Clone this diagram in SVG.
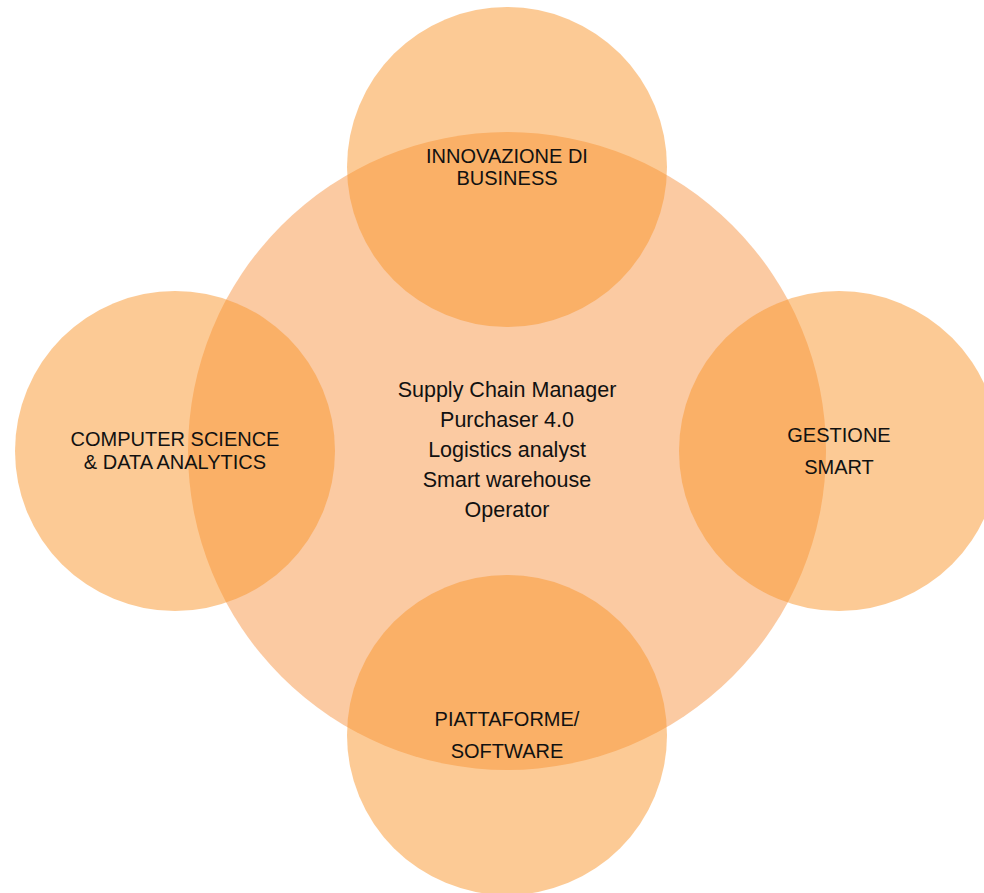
<svg xmlns="http://www.w3.org/2000/svg" width="984" height="893" viewBox="0 0 984 893">
  <style>
    .big { fill: #F79646; fill-opacity: 0.5; }
    .small { fill: #FA952C; fill-opacity: 0.5; }
    text { font-family: "Liberation Sans", Arial, sans-serif; font-size: 20px; fill: #111111; text-anchor: middle; }
    .mid { font-size: 21.5px; }
  </style>
  <rect width="984" height="893" fill="#FFFFFF"/>
  <g id="center">
    <circle class="big" cx="507" cy="451" r="319"/>
    <text class="mid" x="507" y="397">Supply Chain Manager</text>
    <text class="mid" x="507" y="427">Purchaser 4.0</text>
    <text class="mid" x="507" y="457">Logistics analyst</text>
    <text class="mid" x="507" y="487">Smart warehouse</text>
    <text class="mid" x="507" y="517">Operator</text>
  </g>
  <g id="top">
    <circle class="small" cx="507" cy="167" r="160"/>
    <text x="507" y="163">INNOVAZIONE DI</text>
    <text x="507" y="185">BUSINESS</text>
  </g>
  <g id="left">
    <circle class="small" cx="175" cy="451" r="160"/>
    <text x="175" y="446">COMPUTER SCIENCE</text>
    <text x="175" y="469">&amp; DATA ANALYTICS</text>
  </g>
  <g id="right">
    <circle class="small" cx="839" cy="451" r="160"/>
    <text x="839" y="442">GESTIONE</text>
    <text x="839" y="474">SMART</text>
  </g>
  <g id="bottom">
    <circle class="small" cx="507" cy="735" r="160"/>
    <text x="507" y="726">PIATTAFORME/</text>
    <text x="507" y="758">SOFTWARE</text>
  </g>
  <g id="connectors"/>
</svg>
